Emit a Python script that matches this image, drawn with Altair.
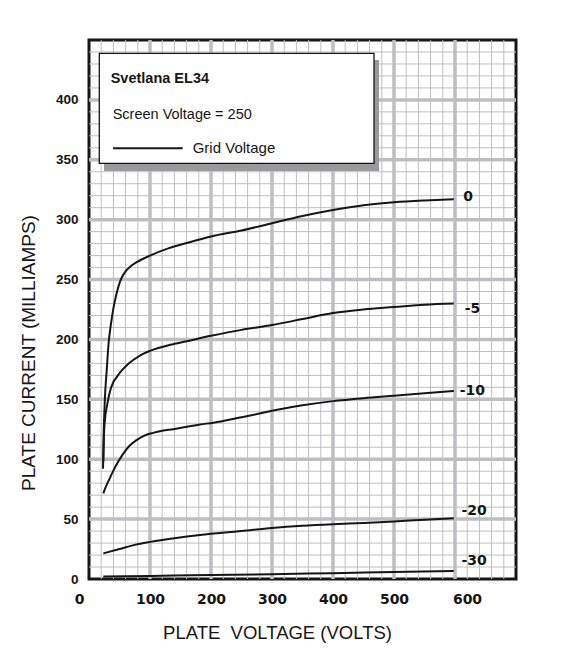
import altair as alt
import pandas as pd

# ---- data (plate voltage V, plate current mA) ----
g0_v = [23, 24, 26, 29, 32, 36, 40, 45, 51, 58, 67, 80, 100, 130, 160, 200, 250, 300, 350, 400, 450, 500, 550, 598]
g0_i = [92, 120, 150, 174, 196, 213, 226, 238, 248.5, 255.5, 260.5, 265, 270, 276, 280.5, 286, 291, 297, 303, 308, 312, 314.5, 316, 317]

g5_v = [23.5, 24.5, 26, 30, 34, 40, 46, 51, 62, 73, 85, 100, 133, 160, 200, 250, 300, 350, 400, 450, 500, 550, 598]
g5_i = [98, 120, 132, 146, 156, 164.5, 169, 172.5, 178.5, 183, 187, 190.5, 195.5, 198.5, 203, 208, 212, 217, 222, 225, 227, 229, 230]

g10_v = [23.5, 26, 33, 40, 48, 56, 66, 78, 90, 105, 120, 138, 182, 204, 250, 313, 350, 400, 450, 500, 550, 598]
g10_i = [71.5, 75, 83, 90.5, 98, 104.5, 111, 116, 119.5, 122, 123.8, 125, 129, 130.5, 135, 141.7, 145, 148.5, 151, 153, 155, 157]

g20_v = [23.5, 50, 75, 101, 140, 182, 250, 300, 350, 400, 450, 500, 550, 598]
g20_i = [21.4, 25, 28.5, 31, 34, 36.7, 40, 42.6, 44.5, 45.8, 46.8, 48, 49.5, 50.7]

g30_v = [23.5, 100, 200, 300, 400, 500, 598]
g30_i = [2, 2.6, 3.3, 4, 4.9, 5.8, 6.7]

curve_labels = ["0", "-5", "-10", "-20", "-30"]
curve_v = [g0_v, g5_v, g10_v, g20_v, g30_v]
curve_i = [g0_i, g5_i, g10_i, g20_i, g30_i]

x_ticks = [0, 100, 200, 300, 400, 500, 600]
y_ticks = [0, 50, 100, 150, 200, 250, 300, 350, 400]
x_major = [100, 200, 300, 400, 500, 600]
y_major = [50, 100, 150, 200, 250, 300, 350, 400]
x_minor = [v for v in range(20, 700, 20) if v % 100]
y_minor = [i for i in range(10, 450, 10) if i % 50]

title_text = "Svetlana EL34"
screen_text = "Screen Voltage = 250"
legend_text = "Grid Voltage"
x_title = "PLATE\u00a0 VOLTAGE (VOLTS)"
y_title = "PLATE CURRENT (MILLIAMPS)"

# ---- styling ----
INK = "#161616"
GRID = "#bebec2"
NARROW = "Liberation Sans Narrow, Arial Narrow, Liberation Sans, sans-serif"

xscale = alt.Scale(domain=[0, 700], nice=False, zero=False)
yscale = alt.Scale(domain=[0, 450], nice=False, zero=False)

xaxis = alt.Axis(
    values=x_ticks, grid=False, ticks=False, domain=False,
    labelFont="DejaVu Sans", labelFontWeight="bold", labelFontSize=14,
    labelColor=INK, labelPadding=13, labelFlush=False, labelOverlap=False,
    labelOffset={"condition": [{"test": "datum.value == 0", "value": -10},
                               {"test": "datum.value == 600", "value": 12}],
                 "value": 0},
    title=x_title, titleFont="Liberation Sans", titleFontWeight="normal",
    titleFontSize=18.5, titleColor=INK, titleX=188, titleY=53,
    titleBaseline="middle", titleAlign="center",
)
yaxis = alt.Axis(
    values=y_ticks, grid=False, ticks=False, domain=False,
    labelFont="Liberation Sans", labelFontWeight="bold", labelFontSize=13.5,
    labelColor=INK, labelPadding=11, labelFlush=False, labelOverlap=False,
    title=y_title, titleFont="Liberation Sans", titleFontWeight="normal",
    titleFontSize=19, titleColor=INK, titleX=-61, titleY=312.5, titleAngle=-90,
    titleBaseline="middle", titleAlign="center",
)


def X(field):
    return alt.X(field, type="quantitative", scale=xscale, axis=xaxis)


def Y(field):
    return alt.Y(field, type="quantitative", scale=yscale, axis=yaxis)


one = pd.DataFrame({"k": [0]})

layers = []
# grid
layers.append(alt.Chart(pd.DataFrame({"gx": x_minor})).mark_rule(color=GRID, strokeWidth=1).encode(x=X("gx")))
layers.append(alt.Chart(pd.DataFrame({"gy": y_minor})).mark_rule(color=GRID, strokeWidth=1).encode(y=Y("gy")))
layers.append(alt.Chart(pd.DataFrame({"gx": x_major})).mark_rule(color=GRID, strokeWidth=3.5).encode(x=X("gx")))
layers.append(alt.Chart(pd.DataFrame({"gy": y_major})).mark_rule(color=GRID, strokeWidth=3.5).encode(y=Y("gy")))

# legend box with shadow
layers.append(alt.Chart(one).mark_rect(color="#9a9a9c").encode(
    x=alt.value(15), x2=alt.value(290), y=alt.value(20), y2=alt.value(131)))
layers.append(alt.Chart(one).mark_rect(fill="white", stroke=INK, strokeWidth=1.3).encode(
    x=alt.value(10.3), x2=alt.value(285), y=alt.value(13.3), y2=alt.value(123.3)))
layers.append(alt.Chart(one).mark_text(align="left", baseline="alphabetic", font=NARROW,
                                       fontWeight="bold", fontSize=14.5, color=INK).encode(
    x=alt.value(21.7), y=alt.value(42.7), text=alt.value(title_text)))
layers.append(alt.Chart(one).mark_text(align="left", baseline="alphabetic", font=NARROW,
                                       fontSize=14.5, color=INK).encode(
    x=alt.value(23.7), y=alt.value(79.3), text=alt.value(screen_text)))
layers.append(alt.Chart(one).mark_rule(color=INK, strokeWidth=2).encode(
    x=alt.value(24), x2=alt.value(93.7), y=alt.value(108.3)))
layers.append(alt.Chart(one).mark_text(align="left", baseline="alphabetic", font=NARROW,
                                       fontSize=15, color=INK).encode(
    x=alt.value(103.7), y=alt.value(112.7), text=alt.value(legend_text)))

# curves
rows = []
for lab, vs, cs in zip(curve_labels, curve_v, curve_i):
    for v, c in zip(vs, cs):
        rows.append({"V": v, "I": c, "grid": lab})
curves = pd.DataFrame(rows)
layers.append(alt.Chart(curves).mark_line(color=INK, strokeWidth=2, interpolate="monotone").encode(
    x=X("V"), y=Y("I"), detail="grid:N"))

# curve end labels
label_dx = [9.5, 11, 6, 7.7, 7.7]
label_dy = [-2, 5, 0, -7.6, -10]
for lab, vs, cs, dx, dy in zip(curve_labels, curve_v, curve_i, label_dx, label_dy):
    end = pd.DataFrame({"V": [vs[-1]], "I": [cs[-1]], "label": [lab]})
    layers.append(alt.Chart(end).mark_text(align="left", baseline="middle", dx=dx, dy=dy,
                                           font="DejaVu Sans", fontWeight="bold", fontSize=14,
                                           color=INK).encode(
        x=X("V"), y=Y("I"), text="label:N"))

chart = alt.layer(*layers).properties(
    width=427, height=539,
    autosize=alt.AutoSizeParams(type="none"),
    padding={"left": 81, "top": 32, "right": 50, "bottom": 70},
    background="white",
).configure_view(stroke=INK, strokeWidth=3)

chart.save("out.html", embed_options={"renderer": "svg", "actions": False})
